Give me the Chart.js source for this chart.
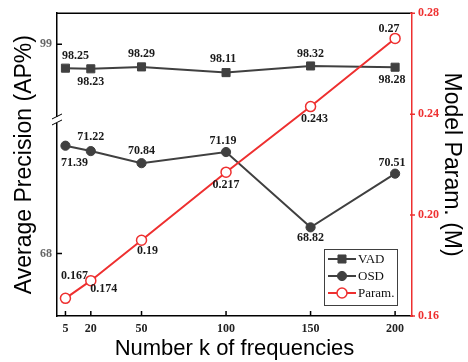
<!DOCTYPE html>
<html>
<head>
<meta charset="utf-8">
<script src="https://cdn.jsdelivr.net/npm/chart.js@4.4.0/dist/chart.umd.min.js"></script>
<style>
  html, body { margin: 0; padding: 0; background: #fff; }
</style>
</head>
<body>
<canvas id="freqChart" width="468" height="362"></canvas>
<script>
// data
const kValues = [5, 20, 50, 100, 150, 200];
const vadAP = [98.25, 98.23, 98.29, 98.11, 98.32, 98.28];
const osdAP = [71.39, 71.22, 70.84, 71.19, 68.82, 70.51];
const paramM = [0.167, 0.174, 0.19, 0.217, 0.243, 0.27];
const apTicks = [68, 99];
const paramTicks = [0.16, 0.20, 0.24, 0.28];

// broken left axis: values above the break are shifted down by this much
const breakShift = 24.42;
const breakAt = 72.2; // axis value (shifted space) where the break mark sits

// value label offsets in px [dx, dy]
const vadLabelPos = [[10, -12], [0, 13], [0, -13], [-3, -14], [0, -12], [-3, 13]];
const osdLabelPos = [[9, 17], [0, -14], [0, -12], [-3, -11], [0, 11], [-3, -11]];
const paramLabelPos = [[9, -22], [13, 8], [6, 11], [0, 13], [4, 12], [-6, -10]];

const GRAY = '#404040';
const RED = '#ee3030';
const SERIF = '"Liberation Serif", "Times New Roman", serif';
const SANS = '"Liberation Sans", Arial, sans-serif';

const decorPlugin = {
    id: 'decor',
    afterDatasetsDraw(chart) {
        const ctx = chart.ctx;
        const sets = [vadLabelPos, osdLabelPos, paramLabelPos];
        const values = [vadAP, osdAP, paramM];
        ctx.save();
        ctx.font = 'bold 12px ' + SERIF;
        ctx.fillStyle = '#1a1a1a';
        ctx.textAlign = 'center';
        ctx.textBaseline = 'middle';
        sets.forEach((pos, di) => {
            const meta = chart.getDatasetMeta(di);
            meta.data.forEach((pt, i) => {
                ctx.fillText(String(values[di][i]), pt.x + pos[i][0], pt.y + pos[i][1]);
            });
        });
        ctx.restore();
    },
    afterDraw(chart) {
        const ctx = chart.ctx;
        const area = chart.chartArea;
        const xs = chart.scales.x, ys = chart.scales.y, y2 = chart.scales.y2;
        ctx.save();

        // top frame line
        ctx.strokeStyle = '#000';
        ctx.lineWidth = 1.5;
        ctx.beginPath();
        ctx.moveTo(area.left, area.top);
        ctx.lineTo(area.right, area.top);
        ctx.stroke();

        // inward tick marks
        ctx.beginPath();
        kValues.forEach(v => {
            const px = xs.getPixelForValue(v);
            ctx.moveTo(px, area.bottom);
            ctx.lineTo(px, area.bottom - 5);
        });
        ys.ticks.forEach(t => {
            const py = ys.getPixelForValue(t.value);
            ctx.moveTo(area.left, py);
            ctx.lineTo(area.left + 5, py);
        });
        ctx.stroke();

        ctx.strokeStyle = RED;
        ctx.beginPath();
        paramTicks.forEach(v => {
            const py = y2.getPixelForValue(v);
            ctx.moveTo(area.right - 2, py);
            ctx.lineTo(area.right + 3, py);
        });
        ctx.stroke();

        // axis break mark
        const by = ys.getPixelForValue(breakAt);
        ctx.fillStyle = '#fff';
        ctx.fillRect(area.left - 2, by - 3, 4, 6);
        ctx.strokeStyle = '#000';
        ctx.lineWidth = 1;
        ctx.beginPath();
        ctx.moveTo(area.left - 5, by - 1);
        ctx.lineTo(area.left + 5, by - 6);
        ctx.moveTo(area.left - 5, by + 5);
        ctx.lineTo(area.left + 5, by);
        ctx.stroke();

        // legend box
        const lx = 324, ly = 249, lw = 73, lh = 56;
        ctx.fillStyle = '#fff';
        ctx.fillRect(lx, ly, lw, lh);
        ctx.strokeStyle = GRAY;
        ctx.lineWidth = 1;
        ctx.strokeRect(lx + 0.5, ly + 0.5, lw, lh);
        ctx.font = '13px ' + SERIF;
        ctx.textAlign = 'left';
        ctx.textBaseline = 'middle';
        chart.data.datasets.forEach((ds, i) => {
            const ry = ly + 10 + i * 17;
            ctx.strokeStyle = ds.borderColor;
            ctx.lineWidth = 2;
            ctx.beginPath();
            ctx.moveTo(lx + 4, ry);
            ctx.lineTo(lx + 32, ry);
            ctx.stroke();
            ctx.lineWidth = ds.pointBorderWidth;
            ctx.fillStyle = ds.pointBackgroundColor;
            ctx.strokeStyle = ds.borderColor;
            Chart.helpers.drawPoint(ctx, {
                pointStyle: ds.pointStyle,
                radius: ds.pointRadius,
                borderWidth: ds.pointBorderWidth
            }, lx + 18, ry);
            ctx.fillStyle = '#111';
            ctx.fillText(ds.label, lx + 34, ry + 1);
        });
        ctx.restore();
    }
};

const ctx = document.getElementById('freqChart').getContext('2d');
new Chart(ctx, {
    type: 'line',
    data: {
        datasets: [{
            label: 'VAD',
            data: kValues.map((k, i) => ({ x: k, y: vadAP[i] - breakShift })),
            yAxisID: 'y',
            borderColor: GRAY,
            backgroundColor: GRAY,
            pointBackgroundColor: GRAY,
            pointStyle: 'rect',
            pointRadius: 5.7,
            pointBorderWidth: 1,
            borderWidth: 2,
            order: 1
        }, {
            label: 'OSD',
            data: kValues.map((k, i) => ({ x: k, y: osdAP[i] })),
            yAxisID: 'y',
            borderColor: GRAY,
            backgroundColor: GRAY,
            pointBackgroundColor: GRAY,
            pointStyle: 'circle',
            pointRadius: 4.6,
            pointBorderWidth: 1,
            borderWidth: 2,
            order: 1
        }, {
            label: 'Param.',
            data: kValues.map((k, i) => ({ x: k, y: paramM[i] })),
            yAxisID: 'y2',
            borderColor: RED,
            backgroundColor: '#fff',
            pointBackgroundColor: '#fff',
            pointStyle: 'circle',
            pointRadius: 5,
            pointBorderWidth: 1.5,
            borderWidth: 2,
            order: 0
        }]
    },
    options: {
        responsive: false,
        animation: false,
        layout: { padding: { top: 12, left: 0, right: 0, bottom: 0 } },
        plugins: {
            legend: { display: false },
            tooltip: { enabled: false }
        },
        scales: {
            x: {
                type: 'linear',
                min: 0,
                max: 210,
                afterBuildTicks: s => { s.ticks = kValues.map(v => ({ value: v })); },
                afterFit: s => { s.height = 46; },
                grid: { display: false, drawTicks: false },
                border: { color: '#000', width: 1.5 },
                ticks: {
                    padding: 6,
                    color: '#222',
                    font: { family: SERIF, size: 12, weight: 'bold' },
                    callback: v => String(v)
                },
                title: {
                    display: true,
                    text: 'Number k of frequencies',
                    color: '#000',
                    font: { family: SANS, size: 22 },
                    padding: { top: 0, bottom: 0 }
                }
            },
            y: {
                type: 'linear',
                position: 'left',
                min: 66.03,
                max: 75.56,
                afterBuildTicks: s => {
                    s.ticks = apTicks.map(v => ({ value: v > breakAt + breakShift ? v - breakShift : v }));
                },
                afterFit: s => { s.width = 57; },
                grid: { display: false, drawTicks: false },
                border: { color: '#000', width: 1.5 },
                ticks: {
                    padding: 5,
                    color: '#666',
                    font: { family: SERIF, size: 12, weight: 'bold' },
                    callback: v => String(v > breakAt ? Math.round(v + breakShift) : v)
                },
                title: {
                    display: true,
                    text: 'Average Precision (AP%)',
                    color: '#000',
                    font: { family: SANS, size: 23 },
                    padding: { top: 11, bottom: 0 }
                }
            },
            y2: {
                type: 'linear',
                position: 'right',
                min: 0.16,
                max: 0.28,
                afterBuildTicks: s => { s.ticks = paramTicks.map(v => ({ value: v })); },
                afterFit: s => { s.width = 56; },
                grid: { display: false, drawTicks: false },
                border: { color: RED, width: 1.5 },
                ticks: {
                    padding: 6,
                    color: RED,
                    font: { family: SERIF, size: 12, weight: 'bold' },
                    callback: v => v.toFixed(2)
                },
                title: {
                    display: true,
                    text: 'Model Param. (M)',
                    color: '#000',
                    font: { family: SANS, size: 23 },
                    padding: { top: 3, bottom: 0 }
                }
            }
        }
    },
    plugins: [decorPlugin]
});
</script>
</body>
</html>
